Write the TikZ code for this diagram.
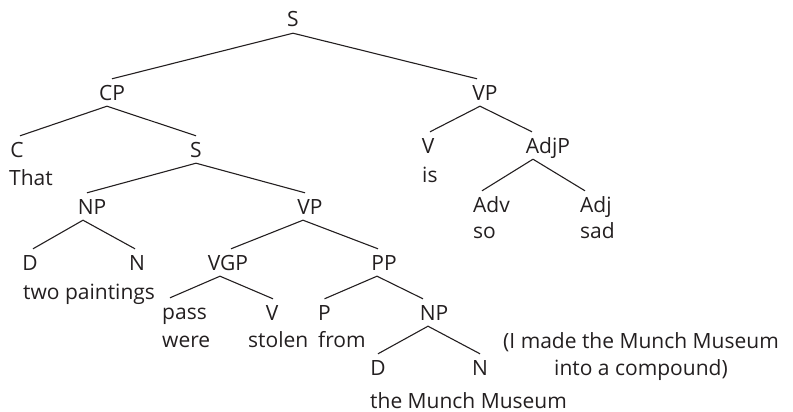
\documentclass[tikz,border=0pt]{standalone}
\usepackage{fontspec}
\setmainfont{Open Sans}
\definecolor{ink}{RGB}{35,31,32}
\begin{document}
\begin{tikzpicture}[x=1pt,y=-1pt,
  lbl/.style={inner sep=0pt, anchor=base, text=ink, font=\fontsize{21}{25}\selectfont},
  cat/.style={lbl, text height=15pt, text depth=0pt, inner ysep=6pt},
  edge/.style={line width=1.1pt, draw=ink}]
\useasboundingbox (0,0) rectangle (793,412);
% nodes
\node[cat] (S) at (293,27) {S};
\node[cat] (CP) at (112,100) {CP};
\node[cat] (VPa) at (485,100) {VP};
\node[cat] (C) at (17,157) {C};
\node[lbl, anchor=base west] (that) at (9,185) {That};
\node[cat] (S2) at (196,157) {S};
\node[cat] (Va) at (428,153) {V};
\node[lbl, anchor=base west] (is) at (422,182) {is};
\node[cat] (AdjP) at (548,153) {AdjP};
\node[cat, anchor=base west] (Adv) at (473,212) {Adv};
\node[cat, anchor=base west] (Adj) at (580,212) {Adj};
\node[lbl, anchor=base west] (so) at (473,238) {so};
\node[lbl, anchor=base west] (sad) at (580,238) {sad};
\node[cat] (NP) at (92,214) {NP};
\node[cat] (VP) at (310,214) {VP};
\node[cat] (D) at (30,270) {D};
\node[cat] (N) at (137,270) {N};
\node[lbl, anchor=base west] (tp) at (23,299) {two paintings};
\node[cat] (VGP) at (228,270) {VGP};
\node[cat] (PP) at (384,270) {PP};
\node[cat, anchor=base west] (pass) at (162,319) {pass};
\node[lbl, anchor=base west] (were) at (162,347) {were};
\node[cat] (Vb) at (272,320) {V};
\node[lbl, anchor=base west] (stolen) at (248,347) {stolen};
\node[cat, anchor=base west] (P) at (318,320) {P};
\node[lbl, anchor=base west] (from) at (318,347) {from};
\node[cat] (NP2) at (434,320) {NP};
\node[cat] (D2) at (378,375) {D};
\node[cat] (N2) at (480,375) {N};
\node[lbl, anchor=base west] (munch) at (370,408) {the Munch Museum};
\node[lbl] (note1) at (641,348) {(I made the Munch Museum};
\node[lbl] (note2) at (641,375) {into a compound)};
% edges
\draw[edge] (S.south) -- (CP.north);
\draw[edge] (S.south) -- ([xshift=-8pt]VPa.north);
\draw[edge] ([xshift=-5pt]CP.south) -- ([xshift=3pt]C.north);
\draw[edge] ([xshift=-5pt]CP.south) -- (S2.north);
\draw[edge] (S2.south) -- ([xshift=-5pt]NP.north);
\draw[edge] (S2.south) -- ([xshift=-5pt]VP.north);
\draw[edge] ([xshift=-9pt]NP.south) -- ([xshift=3pt]D.north);
\draw[edge] ([xshift=-9pt]NP.south) -- ([xshift=-2pt]N.north);
\draw[edge] ([xshift=-7pt]VP.south) -- ([xshift=3pt]VGP.north);
\draw[edge] ([xshift=-7pt]VP.south) -- ([xshift=-6pt]PP.north);
\draw[edge] ([xshift=-8pt]VGP.south) -- ([xshift=8pt]pass.north west);
\draw[edge] ([xshift=-8pt]VGP.south) -- ([xshift=1pt]Vb.north);
\draw[edge] ([xshift=-7pt]PP.south) -- (P.north);
\draw[edge] ([xshift=-7pt]PP.south) -- ([xshift=-11pt]NP2.north);
\draw[edge] ([xshift=-6pt]NP2.south) -- (D2.north);
\draw[edge] ([xshift=-6pt]NP2.south) -- (N2.north);
\draw[edge] ([xshift=-5pt]VPa.south) -- ([xshift=2pt]Va.north);
\draw[edge] ([xshift=-5pt]VPa.south) -- ([xshift=-16pt]AdjP.north);
\draw[edge] ([xshift=-15pt]AdjP.south) -- ([xshift=9pt]Adv.north west);
\draw[edge] ([xshift=-15pt]AdjP.south) -- ([xshift=5pt]Adj.north west);
\end{tikzpicture}
\end{document}
